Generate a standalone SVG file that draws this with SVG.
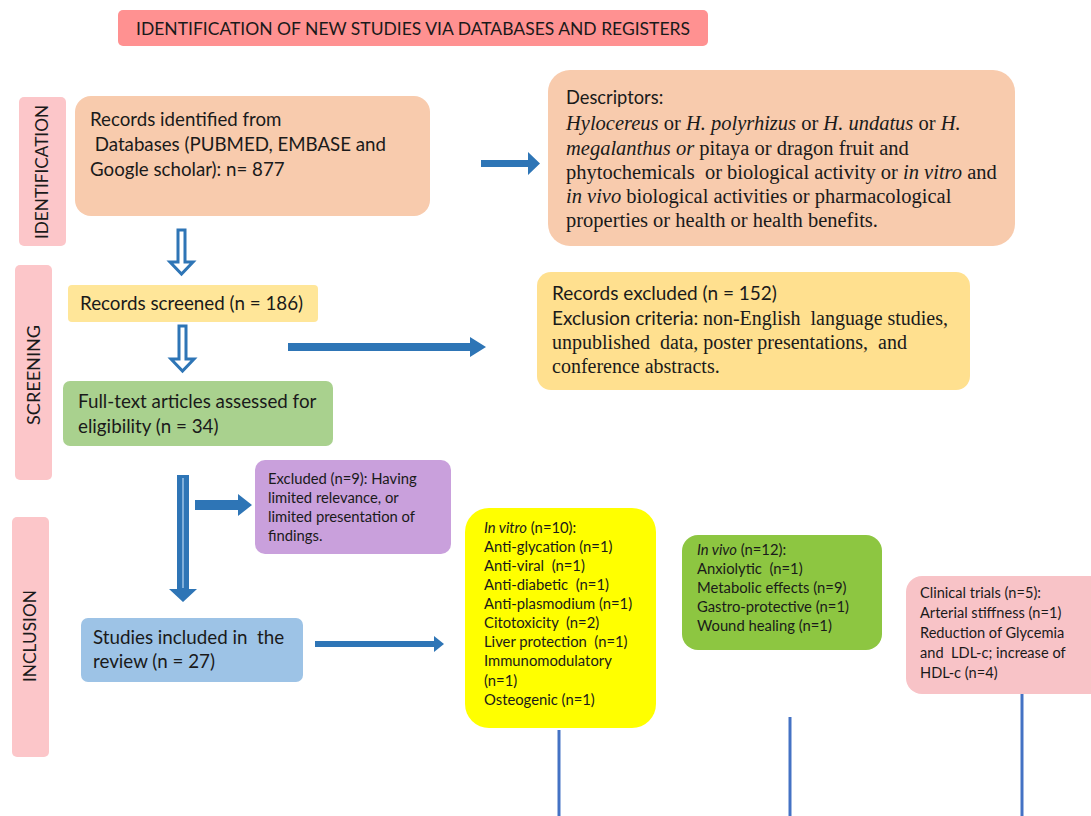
<svg xmlns="http://www.w3.org/2000/svg" width="1091" height="816" viewBox="0 0 1091 816">
<style>
text{white-space:pre}
.c{font-family:Lato,"Liberation Sans",sans-serif;fill:#1a1a1a}
.t{font-family:"Liberation Serif","Times New Roman",serif;fill:#1a1a1a}
.side{fill:#FCC6C9}
.ar{fill:#2E75B6}
.hol{fill:#ffffff;stroke:#2E75B6;stroke-width:3;stroke-linejoin:miter}
.vl{stroke:#4472C4;stroke-width:3}
</style>
<rect width="1091" height="816" fill="#ffffff"/>

<g id="title">
<rect x="118" y="10" width="590" height="36" rx="5" fill="#FF9191"/>
<text class="c" x="413" y="35" font-size="17" text-anchor="middle" textLength="554" lengthAdjust="spacingAndGlyphs">IDENTIFICATION OF NEW STUDIES VIA DATABASES AND REGISTERS</text>
</g>

<g id="lbl-identification">
<rect class="side" x="19" y="97" width="47" height="149" rx="5"/>
<text class="c" transform="translate(48,172) rotate(-90)" font-size="17" text-anchor="middle" textLength="134" lengthAdjust="spacingAndGlyphs">IDENTIFICATION</text>
</g>
<g id="lbl-screening">
<rect class="side" x="15" y="265" width="37" height="215" rx="5"/>
<text class="c" transform="translate(40,375) rotate(-90)" font-size="17" text-anchor="middle" textLength="100" lengthAdjust="spacingAndGlyphs">SCREENING</text>
</g>
<g id="lbl-inclusion">
<rect class="side" x="12" y="517" width="37" height="240" rx="5"/>
<text class="c" transform="translate(36,636) rotate(-90)" font-size="17" text-anchor="middle" textLength="92" lengthAdjust="spacingAndGlyphs">INCLUSION</text>
</g>

<g id="records-identified">
<rect x="75" y="96" width="355" height="120" rx="16" fill="#F8CBAD"/>
<text class="c" font-size="18.7"><tspan x="90" y="126">Records identified from</tspan><tspan x="90" y="151"> Databases (PUBMED, EMBASE and</tspan><tspan x="90" y="176">Google scholar): n= 877</tspan></text>
</g>

<g id="descriptors">
<rect x="548" y="70" width="467" height="176" rx="22" fill="#F8CBAD"/>
<text class="c" x="566" y="104" font-size="18.3">Descriptors:</text>
<text class="t" font-size="20.5"><tspan x="566" y="130"><tspan font-style="italic">Hylocereus</tspan> or <tspan font-style="italic">H. polyrhizus</tspan> or <tspan font-style="italic">H. undatus</tspan> or <tspan font-style="italic">H.</tspan></tspan><tspan x="566" y="155"><tspan font-style="italic">megalanthus or</tspan> pitaya or dragon fruit and</tspan><tspan x="566" y="179">phytochemicals  or biological activity or <tspan font-style="italic">in vitro</tspan> and</tspan><tspan x="566" y="203"><tspan font-style="italic">in vivo</tspan> biological activities or pharmacological</tspan><tspan x="566" y="227">properties or health or health benefits.</tspan></text>
</g>

<g id="records-screened">
<rect x="68" y="285" width="250" height="37" rx="4" fill="#FFE699"/>
<text class="c" x="80" y="310" font-size="18.8">Records screened (n = 186)</text>
</g>

<g id="records-excluded">
<rect x="537" y="272" width="433" height="118" rx="14" fill="#FFE08F"/>
<text class="c" x="552" y="300" font-size="19">Records excluded (n = 152)</text>
<text class="c" x="552" y="325" font-size="19">Exclusion criteria:</text>
<text class="t" x="703" y="325" font-size="20" textLength="245" lengthAdjust="spacing">non-English  language studies,</text>
<text class="t" x="552" y="349" font-size="20" textLength="355" lengthAdjust="spacing">unpublished  data, poster presentations,  and</text>
<text class="t" x="552" y="373" font-size="20">conference abstracts.</text>
</g>

<g id="full-text">
<rect x="63" y="381" width="270" height="65" rx="7" fill="#A9D18E"/>
<text class="c" font-size="18.8"><tspan x="78" y="408">Full-text articles assessed for</tspan><tspan x="78" y="433">eligibility (n = 34)</tspan></text>
</g>

<g id="excluded-9">
<rect x="255" y="460" width="196" height="94" rx="10" fill="#C9A0DC"/>
<text class="c" font-size="14.8"><tspan x="268" y="484">Excluded (n=9): Having</tspan><tspan x="268" y="503">limited relevance, or</tspan><tspan x="268" y="522">limited presentation of</tspan><tspan x="268" y="541">findings.</tspan></text>
</g>

<g id="studies-included">
<rect x="81" y="618" width="222" height="64" rx="7" fill="#9DC3E6"/>
<text class="c" font-size="18.8"><tspan x="93" y="644">Studies included in  the</tspan><tspan x="93" y="668">review (n = 27)</tspan></text>
</g>

<g id="in-vitro">
<rect x="465" y="508" width="191" height="220" rx="24" fill="#FFFF00"/>
<text class="c" font-size="14.8"><tspan x="484" y="533"><tspan font-style="italic">In vitro</tspan> (n=10):</tspan><tspan x="484" y="552">Anti-glycation (n=1)</tspan><tspan x="484" y="571">Anti-viral  (n=1)</tspan><tspan x="484" y="590">Anti-diabetic  (n=1)</tspan><tspan x="484" y="609">Anti-plasmodium (n=1)</tspan><tspan x="484" y="628">Citotoxicity  (n=2)</tspan><tspan x="484" y="647">Liver protection  (n=1)</tspan><tspan x="484" y="666">Immunomodulatory</tspan><tspan x="484" y="686">(n=1)</tspan><tspan x="484" y="705">Osteogenic (n=1)</tspan></text>
</g>

<g id="in-vivo">
<rect x="682" y="535" width="200" height="115" rx="16" fill="#8DC641"/>
<text class="c" font-size="14.8"><tspan x="697" y="555"><tspan font-style="italic">In vivo</tspan> (n=12):</tspan><tspan x="697" y="574">Anxiolytic  (n=1)</tspan><tspan x="697" y="593">Metabolic effects (n=9)</tspan><tspan x="697" y="612">Gastro-protective (n=1)</tspan><tspan x="697" y="631">Wound healing (n=1)</tspan></text>
</g>

<g id="clinical-trials">
<rect x="906" y="576" width="200" height="118" rx="16" fill="#F8C3C7"/>
<text class="c" font-size="14.6"><tspan x="920" y="598">Clinical trials (n=5):</tspan><tspan x="920" y="618">Arterial stiffness (n=1)</tspan><tspan x="920" y="638">Reduction of Glycemia</tspan><tspan x="920" y="658">and  LDL-c; increase of</tspan><tspan x="920" y="678">HDL-c (n=4)</tspan></text>
</g>

<g id="connectors">
<path class="hol" d="M178,230 H185 V262 H193 L181.5,274 L170,262 H178 Z"/>
<path class="hol" d="M179,326 H186 V359 H194 L182.5,371 L171,359 H179 Z"/>
<path class="ar" d="M481,160 H528 V152 L540,163.5 L528,175 V167 H481 Z"/>
<path class="ar" d="M288,343 H470 V337 L486,347 L470,357 V351 H288 Z"/>
<path class="ar" d="M177,475 H189 V589 H197 L183,602 L169,589 H177 Z"/>
<line x1="183" y1="478" x2="183" y2="588" stroke="#9DC3E6" stroke-width="1.5"/>
<path class="ar" d="M195,500 H238 V494 L252,505 L238,516 V510 H195 Z"/>
<path class="ar" d="M315,641 H434 V636 L444,644 L434,652 V647 H315 Z"/>
<line class="vl" x1="559" y1="730" x2="559" y2="816"/>
<line class="vl" x1="790" y1="717" x2="790" y2="816"/>
<line class="vl" x1="1022" y1="694" x2="1022" y2="816"/>
</g>
</svg>
